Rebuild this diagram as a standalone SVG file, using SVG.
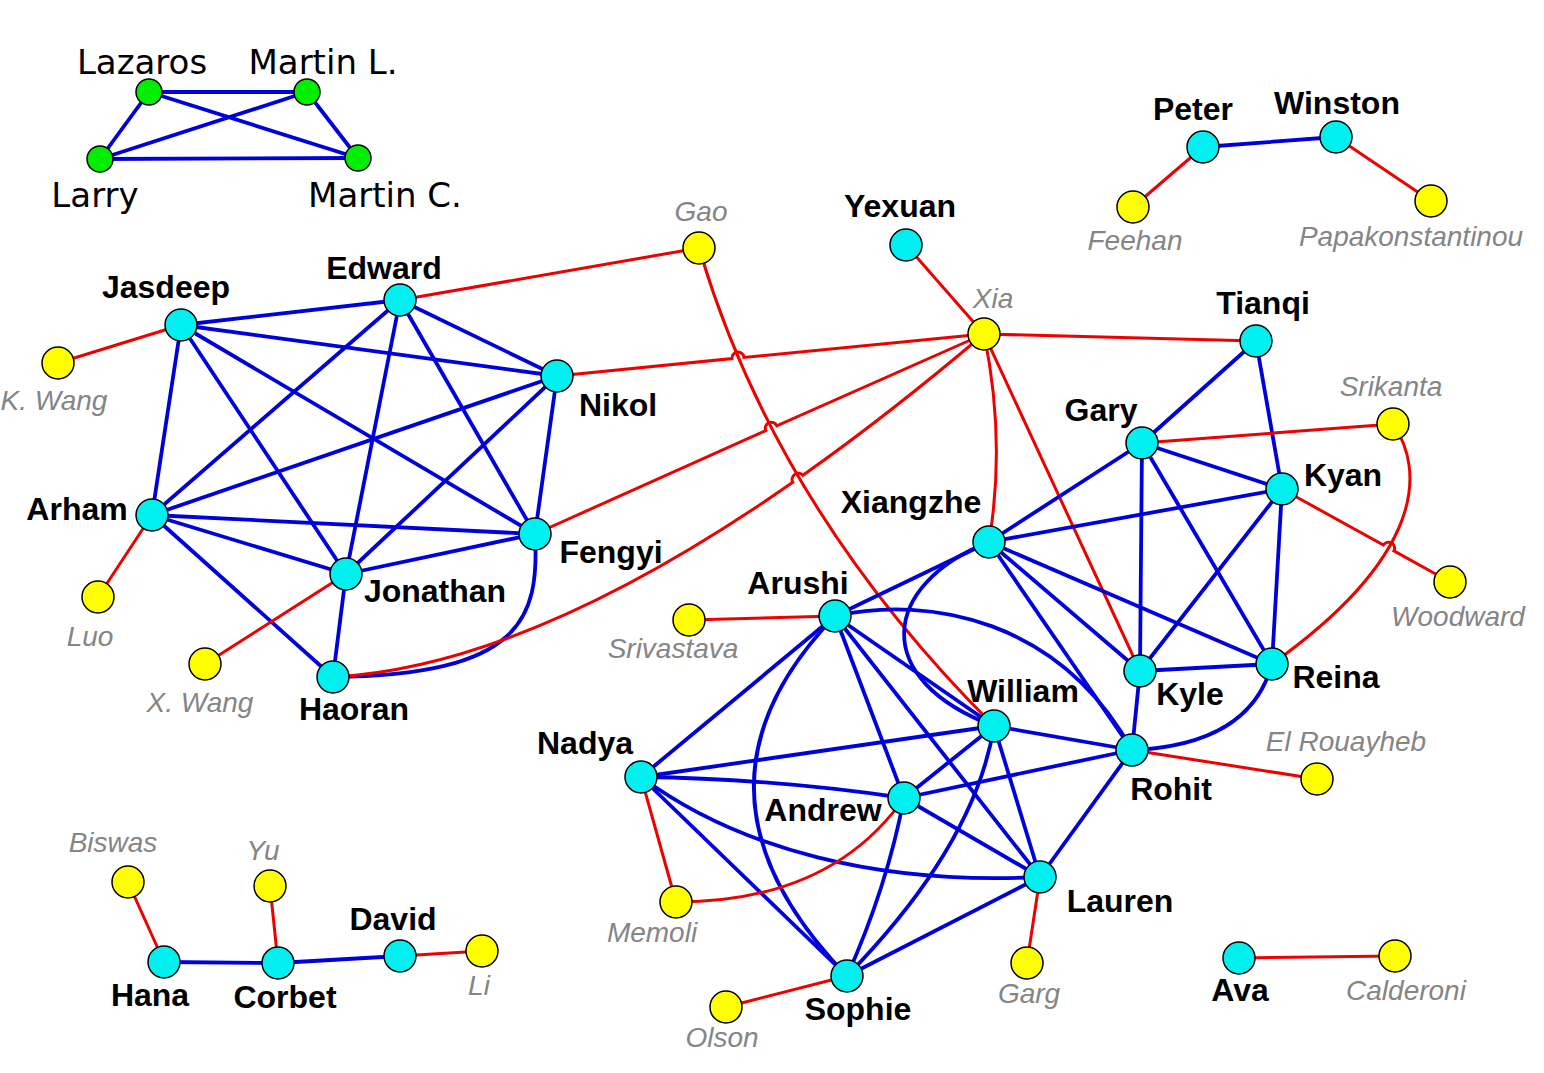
<svg xmlns="http://www.w3.org/2000/svg" width="1544" height="1073" viewBox="0 0 1544 1073">
<style>
.b{stroke:#0000dd;stroke-width:3.8;fill:none;stroke-linecap:round}
.r{stroke:#ee0000;stroke-width:3;fill:none;stroke-linecap:round}
.c{fill:#00f0f0;stroke:#000;stroke-width:1.5}
.y{fill:#ffff00;stroke:#000;stroke-width:1.5}
.g{fill:#00ee00;stroke:#000;stroke-width:1.5}
.lb{font-family:"Liberation Sans",Arial,sans-serif;font-weight:bold;font-size:32px;fill:#000;text-anchor:middle}
.li{font-family:"Liberation Sans",Arial,sans-serif;font-style:italic;font-size:28px;fill:#858585;text-anchor:middle}
.lg{font-family:"DejaVu Sans",Verdana,sans-serif;font-size:34px;fill:#000;text-anchor:middle}
</style>
<rect width="1544" height="1073" fill="#fff"/>
<g id="connectors">
<path class="b" d="M149,92 L307,92"/>
<path class="b" d="M149,92 L100,159"/>
<path class="b" d="M149,92 L358,158"/>
<path class="b" d="M307,92 L100,159"/>
<path class="b" d="M307,92 L358,158"/>
<path class="b" d="M100,159 L358,158"/>
<path class="b" d="M1203,147 L1336,137"/>
<path class="r" d="M1203,147 L1133,207"/>
<path class="r" d="M1336,137 L1431,201"/>
<path class="b" d="M181,325 L400,300"/>
<path class="b" d="M181,325 L557,376"/>
<path class="b" d="M181,325 L152,515"/>
<path class="b" d="M181,325 L346,574"/>
<path class="b" d="M181,325 L535,534"/>
<path class="b" d="M400,300 L152,515"/>
<path class="b" d="M400,300 L346,574"/>
<path class="b" d="M400,300 L557,376"/>
<path class="b" d="M400,300 L535,534"/>
<path class="b" d="M557,376 L152,515"/>
<path class="b" d="M557,376 L346,574"/>
<path class="b" d="M557,376 L535,534"/>
<path class="b" d="M152,515 L535,534"/>
<path class="b" d="M152,515 L346,574"/>
<path class="b" d="M152,515 L333,677"/>
<path class="b" d="M346,574 L535,534"/>
<path class="b" d="M346,574 L333,677"/>
<path class="b" d="M535,534 C540,620 520,675 333,677"/>
<path class="r" d="M181,325 L58,363"/>
<path class="r" d="M152,515 L98,597"/>
<path class="r" d="M346,574 L205,664"/>
<path class="r" d="M400,300 L699,248"/>
<path class="r" d="M699,248 Q776,509 994,726"/>
<path class="r" d="M557,376 L732,358.6 A6 6 0 0 1 744,357.4 L984,334"/>
<path class="r" d="M535,534 L765.8,430.6 A6 6 0 0 1 776.8,425.8 L984,334"/>
<path class="r" d="M333,677 Q528.4,666.6 792.8,482.3 A6.2 6.2 0 0 1 802.9,475.3 Q889.7,413.9 984,334"/>
<path class="r" d="M906,245 L984,334"/>
<path class="r" d="M984,334 L1256,341"/>
<path class="r" d="M984,334 Q1006,440 989,542"/>
<path class="r" d="M984,334 L1140,671"/>
<path class="b" d="M1256,341 L1142,443"/>
<path class="b" d="M1256,341 L1282,489"/>
<path class="b" d="M1142,443 L989,542"/>
<path class="b" d="M1142,443 L1282,489"/>
<path class="b" d="M1142,443 L1140,671"/>
<path class="b" d="M1142,443 L1272,664"/>
<path class="b" d="M1282,489 L989,542"/>
<path class="b" d="M1282,489 L1140,671"/>
<path class="b" d="M1282,489 L1272,664"/>
<path class="b" d="M989,542 L835,616"/>
<path class="b" d="M989,542 L1140,671"/>
<path class="b" d="M989,542 L1272,664"/>
<path class="b" d="M989,542 L1132,750"/>
<path class="b" d="M1140,671 L1272,664"/>
<path class="b" d="M1140,671 L1132,750"/>
<path class="b" d="M1272,664 Q1250,745 1132,750"/>
<path class="b" d="M989,542 C880,585 870,680 994,726"/>
<path class="r" d="M1142,443 L1393,424"/>
<path class="r" d="M1393,424 C1425,470 1425,555 1272,664"/>
<path class="r" d="M1282,489 L1383.4,545.1 A6 6 0 0 1 1393.9,550.9 L1450,582"/>
<path class="r" d="M1132,750 L1317,779"/>
<path class="b" d="M835,616 L641,777"/>
<path class="b" d="M835,616 L904,798"/>
<path class="b" d="M835,616 L994,726"/>
<path class="b" d="M835,616 L1040,877"/>
<path class="b" d="M835,616 C930,595 1060,620 1132,750"/>
<path class="b" d="M835,616 Q667,790 847,976"/>
<path class="b" d="M641,777 L994,726"/>
<path class="b" d="M641,777 Q772,778.5 904,798"/>
<path class="b" d="M641,777 C740,850 880,885 1040,877"/>
<path class="b" d="M641,777 L847,976"/>
<path class="b" d="M904,798 L994,726"/>
<path class="b" d="M904,798 L1132,750"/>
<path class="b" d="M904,798 L1040,877"/>
<path class="b" d="M904,798 Q887,887 847,976"/>
<path class="b" d="M994,726 L1132,750"/>
<path class="b" d="M994,726 L1040,877"/>
<path class="b" d="M994,726 Q975,845 847,976"/>
<path class="b" d="M1040,877 L1132,750"/>
<path class="b" d="M1040,877 L847,976"/>
<path class="r" d="M835,616 L689,620"/>
<path class="r" d="M641,777 L676,902"/>
<path class="r" d="M904,798 Q831,902 676,902"/>
<path class="r" d="M847,976 L726,1007"/>
<path class="r" d="M1040,877 L1027,963"/>
<path class="b" d="M164,962 L278,963"/>
<path class="b" d="M278,963 L400,956"/>
<path class="r" d="M164,962 L128,882"/>
<path class="r" d="M278,963 L270,886"/>
<path class="r" d="M400,956 L482,951"/>
<path class="r" d="M1239,958 L1395,956"/>
</g>
<g id="n-lazaros"><circle class="g" cx="149" cy="92" r="13"/><text class="lg" x="142" y="74">Lazaros</text></g>
<g id="n-martinl"><circle class="g" cx="307" cy="92" r="13"/><text class="lg" x="323" y="74">Martin L.</text></g>
<g id="n-larry"><circle class="g" cx="100" cy="159" r="13"/><text class="lg" x="95" y="207">Larry</text></g>
<g id="n-martinc"><circle class="g" cx="358" cy="158" r="13"/><text class="lg" x="385" y="207">Martin C.</text></g>
<g id="n-peter"><circle class="c" cx="1203" cy="147" r="16"/><text class="lb" x="1193" y="120">Peter</text></g>
<g id="n-winston"><circle class="c" cx="1336" cy="137" r="16"/><text class="lb" x="1337" y="114">Winston</text></g>
<g id="n-feehan"><circle class="y" cx="1133" cy="207" r="16"/><text class="li" x="1135" y="250">Feehan</text></g>
<g id="n-papakonstantinou"><circle class="y" cx="1431" cy="201" r="16"/><text class="li" x="1411" y="246">Papakonstantinou</text></g>
<g id="n-gao"><circle class="y" cx="699" cy="248" r="16"/><text class="li" x="701" y="221">Gao</text></g>
<g id="n-yexuan"><circle class="c" cx="906" cy="245" r="16"/><text class="lb" x="900" y="217">Yexuan</text></g>
<g id="n-xia"><circle class="y" cx="984" cy="334" r="16"/><text class="li" x="993" y="308">Xia</text></g>
<g id="n-tianqi"><circle class="c" cx="1256" cy="341" r="16"/><text class="lb" x="1263" y="314">Tianqi</text></g>
<g id="n-srikanta"><circle class="y" cx="1393" cy="424" r="16"/><text class="li" x="1391" y="396">Srikanta</text></g>
<g id="n-gary"><circle class="c" cx="1142" cy="443" r="16"/><text class="lb" x="1101" y="421">Gary</text></g>
<g id="n-kyan"><circle class="c" cx="1282" cy="489" r="16"/><text class="lb" x="1343" y="486">Kyan</text></g>
<g id="n-woodward"><circle class="y" cx="1450" cy="582" r="16"/><text class="li" x="1458" y="626">Woodward</text></g>
<g id="n-xiangzhe"><circle class="c" cx="989" cy="542" r="16"/><text class="lb" x="911" y="513">Xiangzhe</text></g>
<g id="n-reina"><circle class="c" cx="1272" cy="664" r="16"/><text class="lb" x="1336" y="688">Reina</text></g>
<g id="n-kyle"><circle class="c" cx="1140" cy="671" r="16"/><text class="lb" x="1190" y="705">Kyle</text></g>
<g id="n-rohit"><circle class="c" cx="1132" cy="750" r="16"/><text class="lb" x="1171" y="800">Rohit</text></g>
<g id="n-elrouayheb"><circle class="y" cx="1317" cy="779" r="16"/><text class="li" x="1346" y="751">El Rouayheb</text></g>
<g id="n-william"><circle class="c" cx="994" cy="726" r="16"/><text class="lb" x="1023" y="702">William</text></g>
<g id="n-arushi"><circle class="c" cx="835" cy="616" r="16"/><text class="lb" x="798" y="594">Arushi</text></g>
<g id="n-srivastava"><circle class="y" cx="689" cy="620" r="16"/><text class="li" x="673" y="658">Srivastava</text></g>
<g id="n-nadya"><circle class="c" cx="641" cy="777" r="16"/><text class="lb" x="585" y="754">Nadya</text></g>
<g id="n-andrew"><circle class="c" cx="904" cy="798" r="16"/><text class="lb" x="823" y="821">Andrew</text></g>
<g id="n-lauren"><circle class="c" cx="1040" cy="877" r="16"/><text class="lb" x="1120" y="912">Lauren</text></g>
<g id="n-garg"><circle class="y" cx="1027" cy="963" r="16"/><text class="li" x="1029" y="1003">Garg</text></g>
<g id="n-memoli"><circle class="y" cx="676" cy="902" r="16"/><text class="li" x="652" y="942">Memoli</text></g>
<g id="n-sophie"><circle class="c" cx="847" cy="976" r="16"/><text class="lb" x="858" y="1020">Sophie</text></g>
<g id="n-olson"><circle class="y" cx="726" cy="1007" r="16"/><text class="li" x="722" y="1047">Olson</text></g>
<g id="n-ava"><circle class="c" cx="1239" cy="958" r="16"/><text class="lb" x="1240" y="1001">Ava</text></g>
<g id="n-calderoni"><circle class="y" cx="1395" cy="956" r="16"/><text class="li" x="1406" y="1000">Calderoni</text></g>
<g id="n-edward"><circle class="c" cx="400" cy="300" r="16"/><text class="lb" x="384" y="279">Edward</text></g>
<g id="n-jasdeep"><circle class="c" cx="181" cy="325" r="16"/><text class="lb" x="166" y="298">Jasdeep</text></g>
<g id="n-nikol"><circle class="c" cx="557" cy="376" r="16"/><text class="lb" x="618" y="416">Nikol</text></g>
<g id="n-arham"><circle class="c" cx="152" cy="515" r="16"/><text class="lb" x="77" y="520">Arham</text></g>
<g id="n-fengyi"><circle class="c" cx="535" cy="534" r="16"/><text class="lb" x="611" y="563">Fengyi</text></g>
<g id="n-jonathan"><circle class="c" cx="346" cy="574" r="16"/><text class="lb" x="435" y="602">Jonathan</text></g>
<g id="n-haoran"><circle class="c" cx="333" cy="677" r="16"/><text class="lb" x="354" y="720">Haoran</text></g>
<g id="n-kwang"><circle class="y" cx="58" cy="363" r="16"/><text class="li" x="54" y="410">K. Wang</text></g>
<g id="n-luo"><circle class="y" cx="98" cy="597" r="16"/><text class="li" x="90" y="646">Luo</text></g>
<g id="n-xwang"><circle class="y" cx="205" cy="664" r="16"/><text class="li" x="200" y="712">X. Wang</text></g>
<g id="n-hana"><circle class="c" cx="164" cy="962" r="16"/><text class="lb" x="150" y="1006">Hana</text></g>
<g id="n-corbet"><circle class="c" cx="278" cy="963" r="16"/><text class="lb" x="285" y="1008">Corbet</text></g>
<g id="n-david"><circle class="c" cx="400" cy="956" r="16"/><text class="lb" x="393" y="930">David</text></g>
<g id="n-biswas"><circle class="y" cx="128" cy="882" r="16"/><text class="li" x="113" y="852">Biswas</text></g>
<g id="n-yu"><circle class="y" cx="270" cy="886" r="16"/><text class="li" x="263" y="860">Yu</text></g>
<g id="n-li"><circle class="y" cx="482" cy="951" r="16"/><text class="li" x="479" y="995">Li</text></g>
</svg>
